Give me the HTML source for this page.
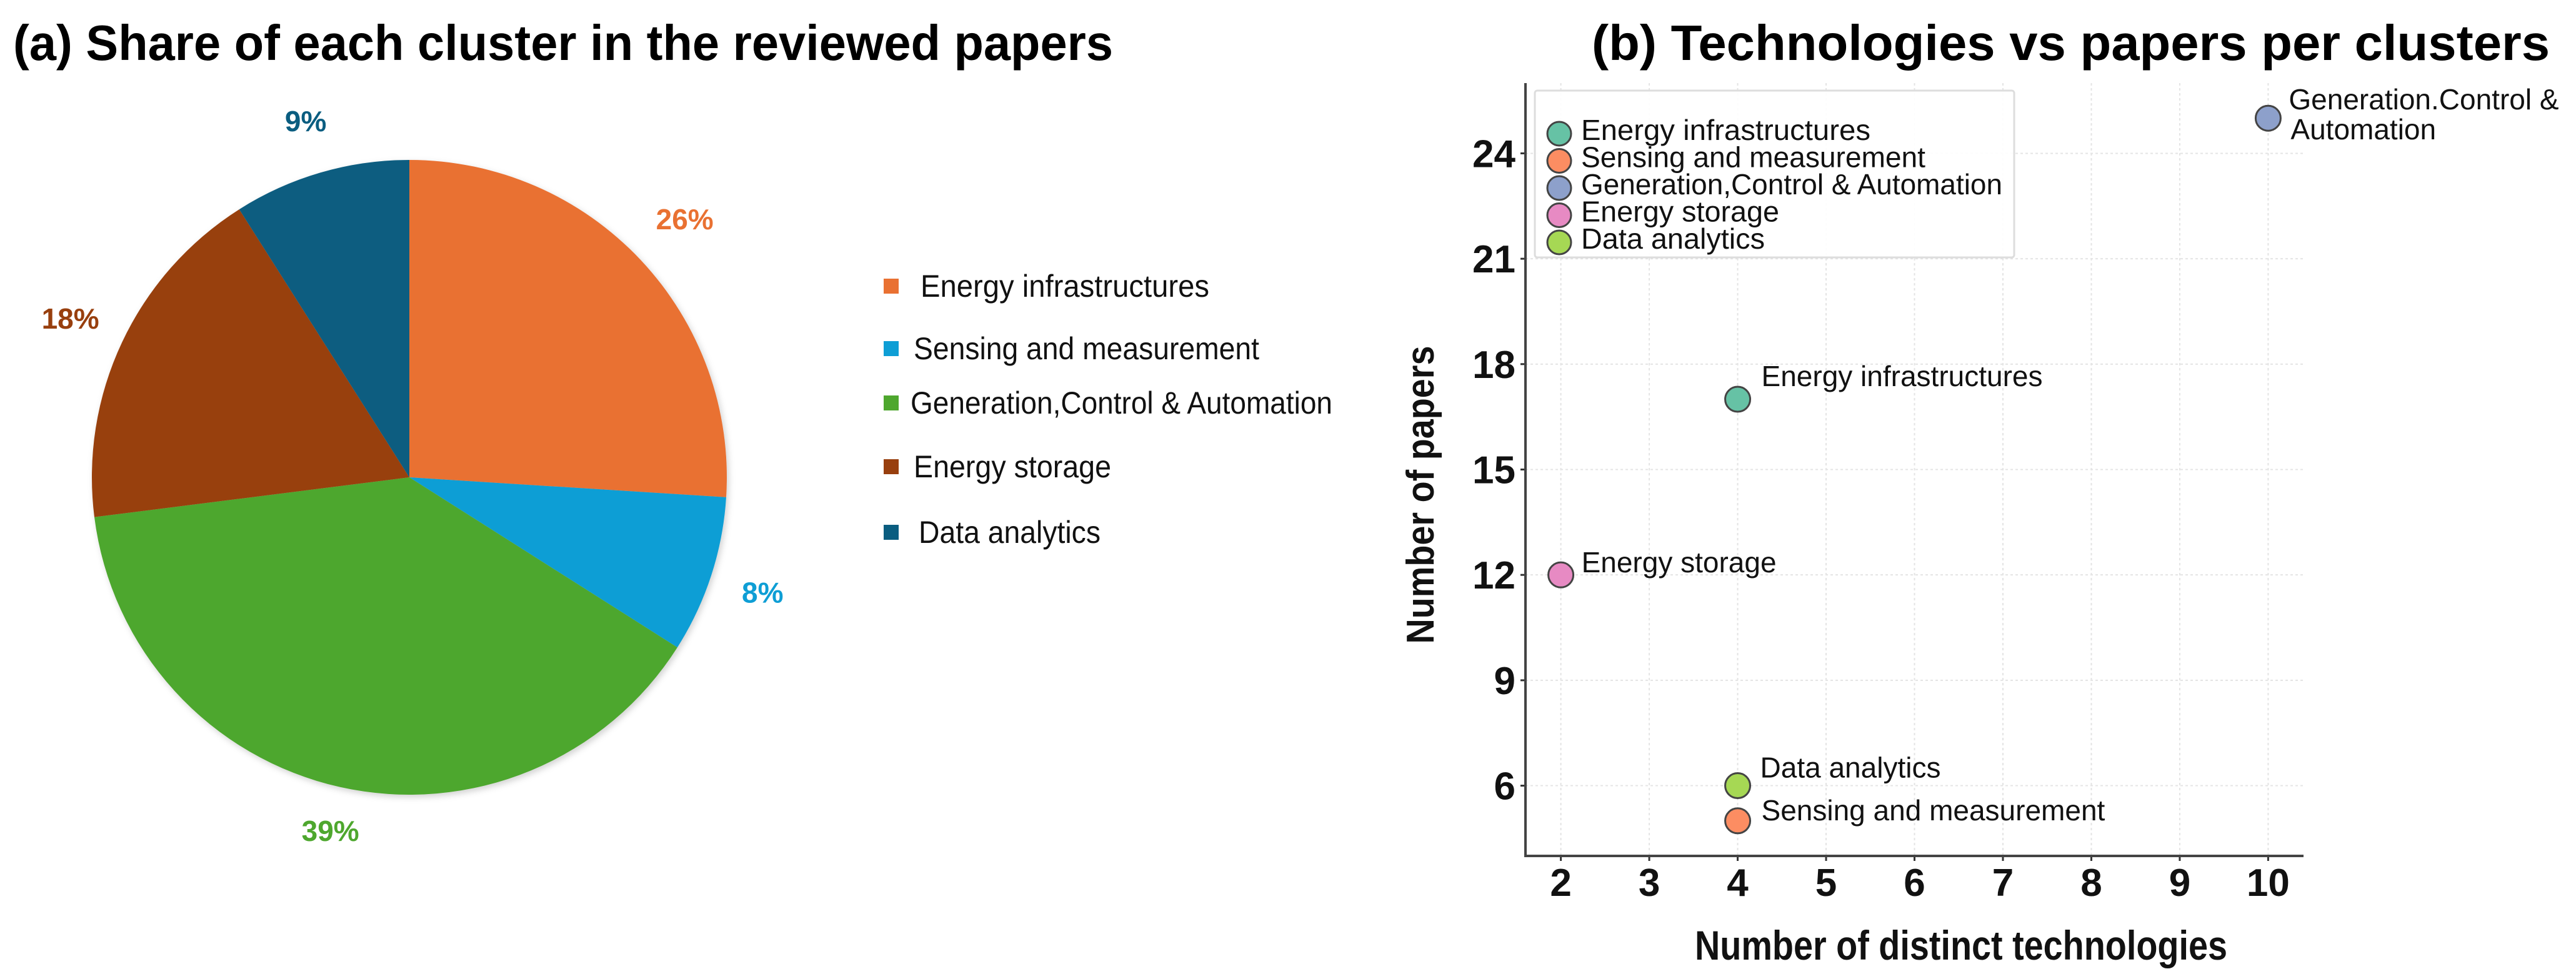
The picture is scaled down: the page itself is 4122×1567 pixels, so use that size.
<!DOCTYPE html>
<html><head><meta charset="utf-8"><style>
html,body{margin:0;padding:0;background:#fff;}
svg{display:block;font-family:"Liberation Sans",Arial,sans-serif;}
.nar{font-family:"Liberation Sans Narrow","Liberation Sans",Arial,sans-serif;}
</style></head><body>
<svg id="fig" width="4122" height="1567" viewBox="0 0 4122 1567" xmlns="http://www.w3.org/2000/svg">
<text class="nar" x="21" y="96" font-size="80" font-weight="bold" textLength="1760" lengthAdjust="spacingAndGlyphs">(a) Share of each cluster in the reviewed papers</text>
<text class="nar" x="2547" y="96" font-size="80" font-weight="bold" textLength="1533" lengthAdjust="spacingAndGlyphs">(b) Technologies vs papers per clusters</text>
<defs><filter id="sh" x="-10%" y="-10%" width="120%" height="120%"><feDropShadow dx="3" dy="4" stdDeviation="5" flood-color="#000" flood-opacity="0.18"/></filter></defs>
<g id="pie" filter="url(#sh)"></g>
<g id="pielabels"></g>
<g id="pielegend"></g>
<g id="scatter"></g>
</svg>
<script>
const pieCats=["Energy infrastructures","Sensing and measurement","Generation,Control & Automation","Energy storage","Data analytics"];
const pieValues=[26,8,39,18,9];
const pieLabels=["26%","8%","39%","18%","9%"];
const pieColors=["#e97132","#0e9ed5","#4ea72e","#983f0e","#0a5d80"];

const scCats=["Energy infrastructures","Sensing and measurement","Generation,Control & Automation","Energy storage","Data analytics"];
const scX=[4,4,10,2,4];
const scY=[17,5,25,12,6];
const scColors=["#66c2a5","#fc8d62","#8da0cb","#e78ac3","#a6d854"];
const xTicks=[2,3,4,5,6,7,8,9,10];
const yTicks=[6,9,12,15,18,21,24];

const NS="http://www.w3.org/2000/svg";
function mk(tag,attrs,parent){const e=document.createElementNS(NS,tag);for(const k in attrs)e.setAttribute(k,attrs[k]);parent.appendChild(e);return e;}

// PIE
const cx=655,cy=764,R=508;
const pie=document.getElementById('pie'),pl=document.getElementById('pielabels'),lg=document.getElementById('pielegend');
const total=pieValues.reduce((a,b)=>a+b,0);
let acc=0;
const labR=[1.19,1.17,1.14,1.18,1.17];
pieValues.forEach((v,i)=>{
  const a0=acc/total*2*Math.PI; acc+=v; const a1=acc/total*2*Math.PI;
  const p=a=>[cx+R*Math.sin(a),cy-R*Math.cos(a)];
  const [x0,y0]=p(a0),[x1,y1]=p(a1);
  const large=(a1-a0)>Math.PI?1:0;
  const s=mk('path',{d:`M${cx},${cy} L${x0},${y0} A${R},${R} 0 ${large} 1 ${x1},${y1} Z`,fill:pieColors[i]},pie);
  
  
  const am=(a0+a1)/2,rr=R*labR[i];
  const t=mk('text',{x:cx+rr*Math.sin(am),y:cy-rr*Math.cos(am)+17,'font-size':46,'font-weight':'bold',fill:pieColors[i],'text-anchor':'middle',class:'nar'},pl);
  t.textContent=pieLabels[i];
  
  
});
const lgY=[458,558,645,747,852],lgX=[1473,1462,1457,1462,1470],lgW=[462,553,675,316,291];
pieCats.forEach((c,i)=>{
  const g=mk('g',{},lg);
  
  
  mk('rect',{x:1414,y:lgY[i]-12,width:24,height:24,fill:pieColors[i]},g);
  const t=mk('text',{x:lgX[i],y:lgY[i]+17,'font-size':50,fill:'#111',class:'nar',textLength:lgW[i],lengthAdjust:'spacingAndGlyphs'},g);
  t.textContent=c;
});

// SCATTER
const sc=document.getElementById('scatter');
const X0=2441,X1=3686,Y0=1370,Y1=133,xmin=1.6,xmax=10.4,ymin=4,ymax=26;
const xs=v=>X0+(v-xmin)/(xmax-xmin)*(X1-X0);
const ys=v=>Y0-(v-ymin)/(ymax-ymin)*(Y0-Y1);
xTicks.forEach(v=>{
  const l=mk('line',{x1:xs(v),x2:xs(v),y1:Y1,y2:Y0,stroke:'#e4e4e4','stroke-width':2,'stroke-dasharray':'4 4'},sc);
  
  
  mk('line',{x1:xs(v),x2:xs(v),y1:Y0,y2:Y0+8,stroke:'#333','stroke-width':3},sc);
  const t=mk('text',{x:xs(v),y:Y0+64,'font-size':62,'font-weight':'bold','text-anchor':'middle',fill:'#111',class:'nar'},sc);
  t.textContent=v;
  
  
});
yTicks.forEach(v=>{
  const l=mk('line',{x1:X0,x2:X1,y1:ys(v),y2:ys(v),stroke:'#e4e4e4','stroke-width':2,'stroke-dasharray':'4 4'},sc);
  
  
  mk('line',{x1:X0-8,x2:X0,y1:ys(v),y2:ys(v),stroke:'#333','stroke-width':3},sc);
  const t=mk('text',{x:X0-16,y:ys(v)+22,'font-size':62,'font-weight':'bold','text-anchor':'end',fill:'#111',class:'nar'},sc);
  t.textContent=v;
  
  
});
const ax=mk('path',{d:`M${X0},${Y1} L${X0},${Y0} L${X1},${Y0}`,fill:'none',stroke:'#444','stroke-width':4},sc);


const xt=mk('text',{x:3138,y:1536,'font-size':66,'font-weight':'bold','text-anchor':'middle',fill:'#111',class:'nar',textLength:852,lengthAdjust:'spacingAndGlyphs'},sc);
xt.textContent='Number of distinct technologies';


const yt=mk('text',{x:0,y:0,'font-size':62,'font-weight':'bold','text-anchor':'middle',fill:'#111',transform:'translate(2294,792) rotate(-90)',textLength:477,lengthAdjust:'spacingAndGlyphs'},sc);
yt.textContent='Number of papers';



// points + annotations
const annDx=[38,38,33,33,36],annDy=[-21,-1,-14,-4,-13];
scCats.forEach((c,i)=>{
  const px=xs(scX[i]),py=ys(scY[i]);
  const pt=mk('circle',{cx:px,cy:py,r:20,fill:scColors[i],stroke:'#444','stroke-width':3},sc);
  
  
  if(i===2){
    const t1=mk('text',{x:px+33,y:py-14,'font-size':46,fill:'#111',class:'nar'},sc);t1.textContent='Generation.Control &';
    
    
    const t2=mk('text',{x:px+36,y:py+34,'font-size':46,fill:'#111',class:'nar'},sc);t2.textContent='Automation';
    
    
  } else {
    const t=mk('text',{x:px+annDx[i],y:py+annDy[i],'font-size':46,fill:'#111',class:'nar'},sc);
    t.textContent=c;
    
    
  }
});
// legend
const lgb=mk('rect',{x:2456,y:145,width:767,height:267,fill:'#fff','fill-opacity':0.9,stroke:'#ddd','stroke-width':3,rx:4},sc);


const lgTW=[463,551,674,317,294];
scCats.forEach((c,i)=>{
  const yy=214+i*43.5;
  const g=mk('g',{},sc);
  
  
  mk('circle',{cx:2495,cy:yy,r:19,fill:scColors[i],stroke:'#444','stroke-width':3},g);
  const t=mk('text',{x:2530,y:yy+10,'font-size':46,fill:'#111',class:'nar',textLength:lgTW[i],lengthAdjust:'spacingAndGlyphs'},g);
  t.textContent=c;
});
</script>
</body></html>
